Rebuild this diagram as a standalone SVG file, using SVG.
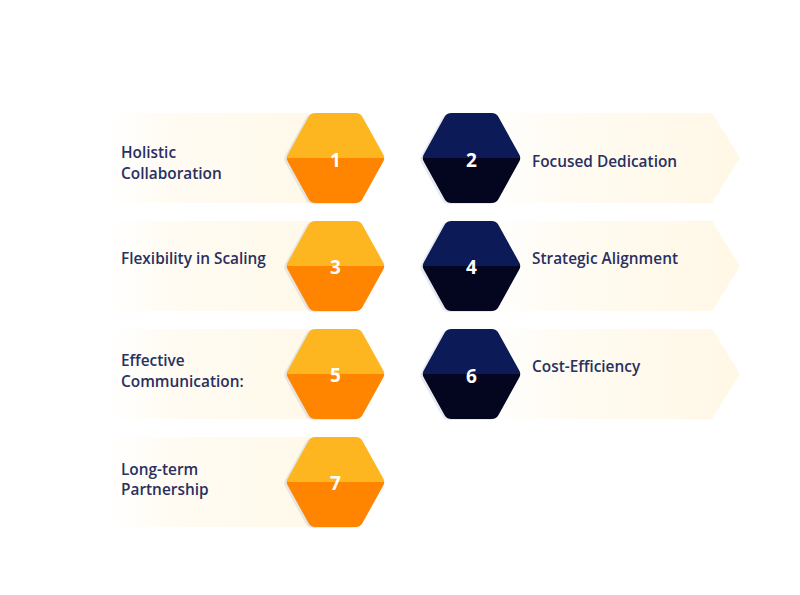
<svg xmlns="http://www.w3.org/2000/svg" width="800" height="595" viewBox="0 0 800 595">
<defs>
<linearGradient id="bandL" x1="0" y1="0" x2="1" y2="0">
<stop offset="0" stop-color="#FFF7E4" stop-opacity="0"/>
<stop offset="0.3" stop-color="#FFF7E4" stop-opacity="0.45"/>
<stop offset="1" stop-color="#FFF7E4" stop-opacity="0.85"/>
</linearGradient>
<linearGradient id="bandR" x1="0" y1="0" x2="1" y2="0">
<stop offset="0" stop-color="#FFF7E4" stop-opacity="0"/>
<stop offset="0.5" stop-color="#FFF7E4" stop-opacity="0.6"/>
<stop offset="1" stop-color="#FFF7E4" stop-opacity="0.9"/>
</linearGradient>
<linearGradient id="orange" x1="0" y1="0" x2="0" y2="1">
<stop offset="0" stop-color="#FDB520"/>
<stop offset="0.5" stop-color="#FDB520"/>
<stop offset="0.5" stop-color="#FF8400"/>
<stop offset="1" stop-color="#FF8400"/>
</linearGradient>
<linearGradient id="navy" x1="0" y1="0" x2="0" y2="1">
<stop offset="0" stop-color="#0C1A57"/>
<stop offset="0.5" stop-color="#0C1A57"/>
<stop offset="0.5" stop-color="#03061E"/>
<stop offset="1" stop-color="#03061E"/>
</linearGradient>
<path id="hex" d="M-47.5,-4 L-27,-41 Q-25,-45 -20,-45 L20,-45 Q25,-45 27,-41 L47.5,-4 Q50,0 47.5,4 L27,41 Q25,45 20,45 L-20,45 Q-25,45 -27,41 L-47.5,4 Q-50,0 -47.5,-4 Z"/>
</defs>
<style>
.lbl{font-family:"Open Sans","Noto Sans",sans-serif;font-weight:600;font-size:15.4px;fill:#283060}
.num{font-family:"Open Sans","Noto Sans",sans-serif;font-weight:700;font-size:19px;fill:#FFFFFF;text-anchor:middle}
.bl{fill:url(#bandL)}
.br{fill:url(#bandR)}
.ho{fill:url(#orange)}
.hn{fill:url(#navy)}
.sh{fill:#B8C0D0;opacity:0.35}
</style>
<rect width="800" height="595" fill="#FFFFFF"/>
<g id="connectors"/>
<g id="node1">
<rect class="bl" x="105" y="113" width="230" height="90"/>
<use href="#hex" class="sh" x="333" y="159"/>
<use href="#hex" class="ho" x="335.5" y="158"/>
<text class="num" x="335.5" y="167">1</text>
<text class="lbl" x="121" y="158">Holistic</text>
<text class="lbl" x="121" y="178.5">Collaboration</text>
</g>
<g id="node2">
<path class="br" d="M471,113 L712,113 L740,158 L712,203 L471,203 Z"/>
<use href="#hex" class="sh" x="469" y="159"/>
<use href="#hex" class="hn" x="471.5" y="158"/>
<text class="num" x="471.5" y="167">2</text>
<text class="lbl" x="532" y="167">Focused Dedication</text>
</g>
<g id="node3">
<rect class="bl" x="105" y="221" width="230" height="90"/>
<use href="#hex" class="sh" x="333" y="267"/>
<use href="#hex" class="ho" x="335.5" y="266"/>
<text class="num" x="335.5" y="274">3</text>
<text class="lbl" x="121" y="264">Flexibility in Scaling</text>
</g>
<g id="node4">
<path class="br" d="M471,221 L712,221 L740,266 L712,311 L471,311 Z"/>
<use href="#hex" class="sh" x="469" y="267"/>
<use href="#hex" class="hn" x="471.5" y="266"/>
<text class="num" x="471.5" y="274">4</text>
<text class="lbl" x="532" y="264">Strategic Alignment</text>
</g>
<g id="node5">
<rect class="bl" x="105" y="329" width="230" height="90"/>
<use href="#hex" class="sh" x="333" y="375"/>
<use href="#hex" class="ho" x="335.5" y="374"/>
<text class="num" x="335.5" y="382">5</text>
<text class="lbl" x="121" y="366">Effective</text>
<text class="lbl" x="121" y="386.5">Communication:</text>
</g>
<g id="node6">
<path class="br" d="M471,329 L712,329 L740,374 L712,419 L471,419 Z"/>
<use href="#hex" class="sh" x="469" y="375"/>
<use href="#hex" class="hn" x="471.5" y="374"/>
<text class="num" x="471.5" y="383">6</text>
<text class="lbl" x="532" y="372">Cost-Efficiency</text>
</g>
<g id="node7">
<rect class="bl" x="105" y="437" width="230" height="90"/>
<use href="#hex" class="sh" x="333" y="483"/>
<use href="#hex" class="ho" x="335.5" y="482"/>
<text class="num" x="335.5" y="490">7</text>
<text class="lbl" x="121" y="474.5">Long-term</text>
<text class="lbl" x="121" y="495">Partnership</text>
</g>
</svg>
